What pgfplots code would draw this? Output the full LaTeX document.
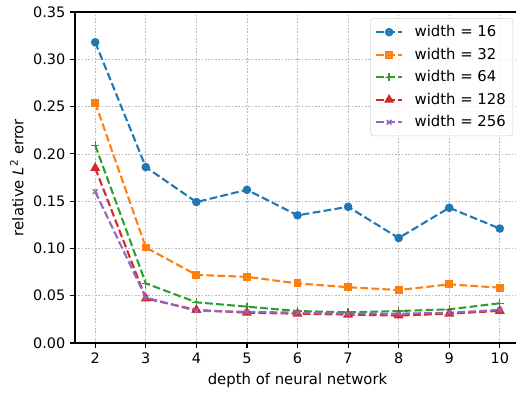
\documentclass[border=0pt]{standalone}
\usepackage{fontspec}
\setmainfont{DejaVu Sans}
\usepackage{pgfplots}
\pgfplotsset{compat=1.18}
\definecolor{tabblue}{HTML}{1F77B4}
\definecolor{taborange}{HTML}{FF7F0E}
\definecolor{tabgreen}{HTML}{2CA02C}
\definecolor{tabred}{HTML}{D62728}
\definecolor{tabpurple}{HTML}{9467BD}
\begin{document}
\begin{tikzpicture}
\path[use as bounding box, clip] (-54pt,-36.7pt) rectangle (317.5pt,246.94pt);
\begin{axis}[
  at={(0pt,0pt)}, anchor=south west,
  scale only axis,
  width=320.4pt, height=238.3pt,
  xmin=1.6, xmax=10.4, ymin=0, ymax=0.35,
  xtick={2,3,...,10},
  ytick={0,0.05,...,0.35},
  yticklabel style={/pgf/number format/.cd,fixed,fixed zerofill,precision=2},
  /pgf/number format/assume math mode=true,
  tick label style={font=\fontsize{10.4}{12}\selectfont},
  label style={font=\fontsize{10.7}{12}\selectfont},
  tick align=outside, tick pos=left,
  major tick length=3.5pt,
  every tick/.style={black, line width=0.8pt},
  axis line style={line width=0.8pt},
  grid=major,
  grid style={gray!55, line width=0.5pt, dash pattern=on 1.2pt off 1.2pt},
  xlabel={depth of neural network},
  ylabel={relative \textit{L}\textsuperscript{2} error},
  legend style={at={(1,1)}, anchor=north east, xshift=-5pt, yshift=-4.5pt,
    draw=gray!35, rounded corners=2pt, fill=white, fill opacity=0.8, text opacity=1,
    font=\fontsize{10.7}{12}\selectfont, row sep=2.6pt, column sep=6pt, inner xsep=3pt, inner ysep=3pt},
  legend cell align=left,
  legend image code/.code={\draw[mark repeat=2,mark phase=2] plot coordinates {(0pt,0pt)(9.6pt,0pt)(19.2pt,0pt)};},
  every axis plot/.append style={line width=1.5pt, dash pattern=on 5.55pt off 2.4pt},
]
\addplot[tabblue, mark=*, mark size=2.3pt, mark options={solid, fill=tabblue}] coordinates {
(2,0.318)(3,0.186)(4,0.149)(5,0.162)(6,0.135)(7,0.144)(8,0.111)(9,0.143)(10,0.121)};
\addlegendentry{width = 16}
\addplot[taborange, mark=square*, mark size=2.1pt, mark options={solid, fill=taborange}] coordinates {
(2,0.254)(3,0.101)(4,0.072)(5,0.070)(6,0.063)(7,0.059)(8,0.056)(9,0.062)(10,0.0585)};
\addlegendentry{width = 32}
\addplot[tabgreen, mark=+, mark size=3pt, mark options={solid, line width=1pt}] coordinates {
(2,0.209)(3,0.063)(4,0.043)(5,0.0384)(6,0.0338)(7,0.0324)(8,0.0338)(9,0.0356)(10,0.042)};
\addlegendentry{width = 64}
\addplot[tabred, mark=triangle*, mark size=2.7pt, mark options={solid, fill=tabred}] coordinates {
(2,0.185)(3,0.047)(4,0.035)(5,0.032)(6,0.031)(7,0.030)(8,0.029)(9,0.031)(10,0.034)};
\addlegendentry{width = 128}
\addplot[tabpurple, mark=x, mark size=2.4pt, mark options={solid, line width=1pt}] coordinates {
(2,0.160)(3,0.048)(4,0.034)(5,0.033)(6,0.032)(7,0.031)(8,0.031)(9,0.032)(10,0.035)};
\addlegendentry{width = 256}
\end{axis}
\end{tikzpicture}
\end{document}
